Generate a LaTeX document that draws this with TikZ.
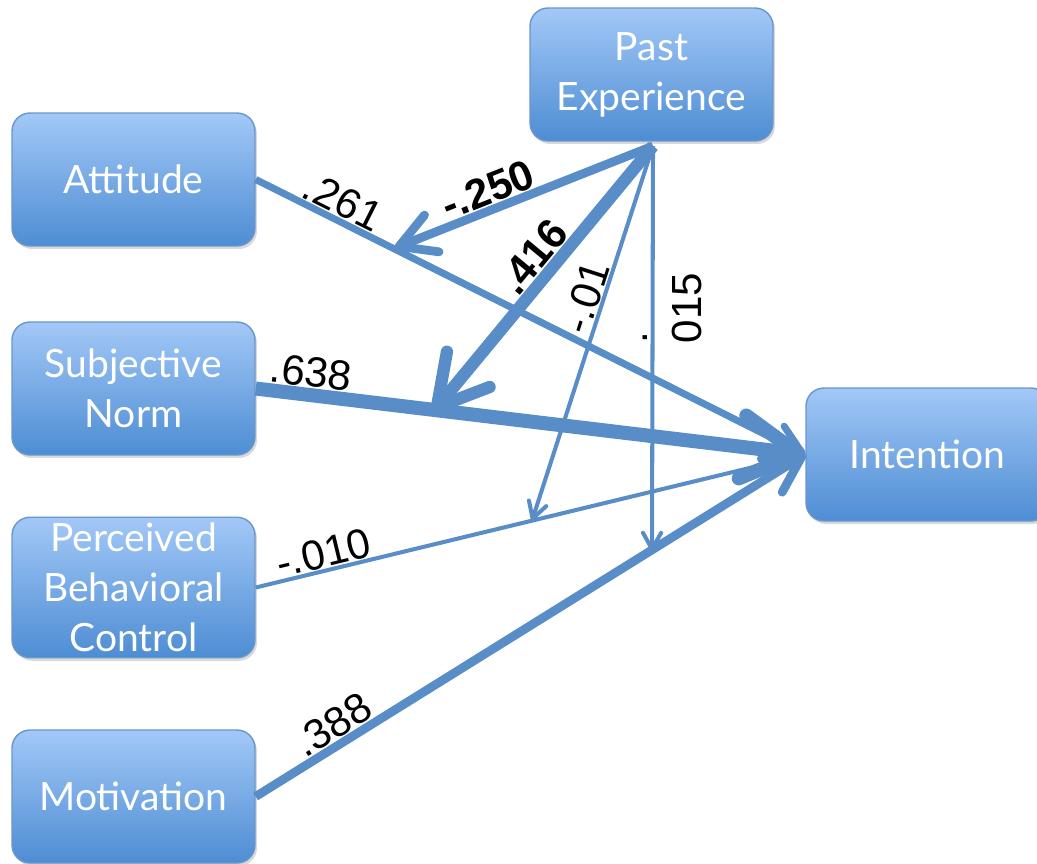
\documentclass[tikz,border=0pt]{standalone}
\usepackage{fontspec}
\setmainfont{Lato}
\newfontfamily\numfont{Liberation Sans}
\usetikzlibrary{arrows.meta,shadows}
\definecolor{pathblue}{RGB}{88,141,199}
\definecolor{boxtop}{RGB}{162,200,247}
\definecolor{boxbot}{RGB}{78,141,211}
\definecolor{boxedge}{RGB}{104,150,205}
\tikzset{
	factor/.style={draw=boxedge, line width=0.8pt, rounded corners=0.36cm, top color=boxtop, bottom color=boxbot,
		minimum width=4.86cm, minimum height=2.66cm, text=white, align=center,
		font=\fontsize{22.2}{28.4}\selectfont, drop shadow={opacity=0.3, shadow xshift=0.04cm, shadow yshift=-0.06cm}},
	effect/.style={draw=pathblue, line width=#1, -{Straight Barb[round, length=0pt 4, width=0pt 4.5]}},
	num/.style={font=\numfont\fontsize{24}{31}\selectfont, inner sep=0.5pt},
	coef/.style={num, sloped, above},
}
\begin{document}
\begin{tikzpicture}[x=0.02cm, y=-0.02cm]
	\useasboundingbox (0,0) rectangle (1037,863);
	\node[factor] (past) at (651.5,74.5) {Past\\Experience};
	\node[factor] (att) at (133.5,179.5) {Attitude};
	\node[factor] (sn) at (133.5,388.5) {Subjective\\Norm};
	\node[factor] (pbc) at (133.5,587.5) {Perceived\\Behavioral\\Control};
	\node[factor] (mot) at (133.5,796.5) {Motivation};
	\node[factor] (int) at (927.5,454.5) {Intention};

	% direct paths to intention
	\draw[effect=4pt] (att.east) -- node[coef, pos=0.143] {.261} (int.west);
	\draw[effect=8pt] (sn.east) -- node[coef, pos=0.096] {.638} (int.west);
	\draw[effect=2.3pt] (pbc.east) -- node[coef, pos=0.131] {-.010} (int.west);
	\draw[effect=5pt] (mot.east) -- node[coef, pos=0.160] {.388} (int.west);

	% past experience acting on the paths
	\coordinate (pe) at (653,146);
	\coordinate (onatt) at (395,248);
	\coordinate (onsn) at (433,412);
	\coordinate (onpbc) at (532,520.6);
	\coordinate (onmot) at (652,551);
	\draw[effect=5pt] (pe) -- node[coef, pos=0.612] {\bfseries -.250} (onatt);
	\draw[effect=7pt] (pe) -- node[coef, pos=0.468] {\bfseries .416} (onsn);
	\draw[effect=2.3pt] (pe) -- node[coef, pos=0.418] {-.01} (onpbc);
	\draw[effect=2.3pt] (pe) -- node[num, pos=0.40, xshift=0.4cm, rotate=90, align=left] {.\\015} (onmot);
\end{tikzpicture}
\end{document}
